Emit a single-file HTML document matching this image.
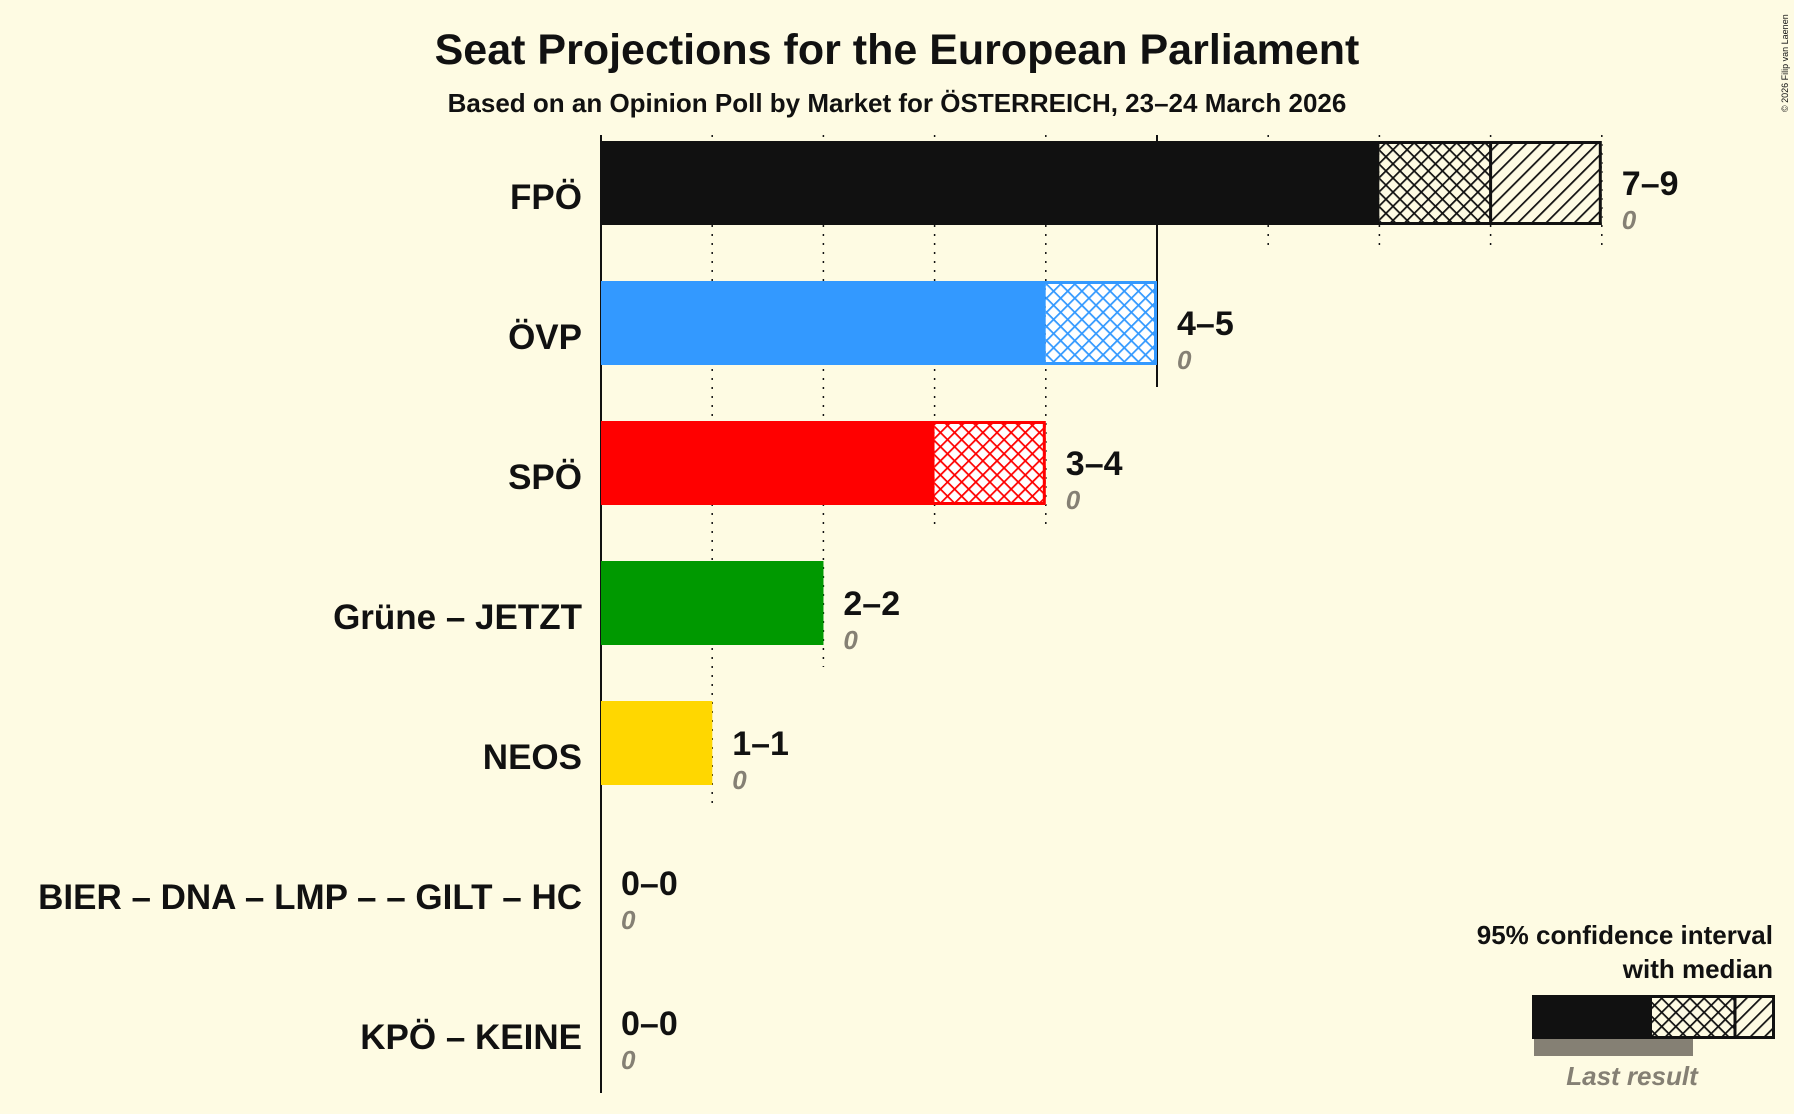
<!DOCTYPE html>
<html><head><meta charset="utf-8"><style>
html,body{margin:0;padding:0;background:#FEFBE3;}
svg{display:block;font-family:"Liberation Sans",sans-serif;}
</style></head><body>
<svg id="chart" width="1794" height="1114" viewBox="0 0 1794 1114" xmlns="http://www.w3.org/2000/svg">
<defs>
<pattern id="xh-black" patternUnits="userSpaceOnUse" width="10" height="10" patternTransform="rotate(45)"><rect width="10" height="10" fill="#FEFBE3"/><path d="M0 0V10M0 0H10" stroke="#111" stroke-width="3.5"/></pattern>
<pattern id="dg-black" patternUnits="userSpaceOnUse" width="10" height="10" patternTransform="rotate(45)"><rect width="10" height="10" fill="#FEFBE3"/><path d="M0 0V10" stroke="#111" stroke-width="3.5"/></pattern>
<pattern id="xh-blue" patternUnits="userSpaceOnUse" width="10" height="10" patternTransform="rotate(45)"><rect width="10" height="10" fill="#fff"/><path d="M0 0V10M0 0H10" stroke="#3399FF" stroke-width="3.5"/></pattern>
<pattern id="xh-red" patternUnits="userSpaceOnUse" width="10" height="10" patternTransform="rotate(45)"><rect width="10" height="10" fill="#fff"/><path d="M0 0V10M0 0H10" stroke="#FF0000" stroke-width="3.5"/></pattern>
</defs>
<text x="897" y="64" text-anchor="middle" font-size="43" font-weight="bold" fill="#111">Seat Projections for the European Parliament</text>
<text x="897" y="112" text-anchor="middle" font-size="26" font-weight="bold" fill="#111">Based on an Opinion Poll by Market for ÖSTERREICH, 23–24 March 2026</text>
<text transform="translate(1788,112) rotate(-90)" font-size="9" fill="#111">© 2026 Filip van Laenen</text>
<g id="grid"></g>
<g id="bars"></g>
<g>
<text x="1773" y="944" text-anchor="end" font-size="26" font-weight="bold" fill="#111">95% confidence interval</text>
<text x="1773" y="978" text-anchor="end" font-size="26" font-weight="bold" fill="#111">with median</text>
<rect x="1534" y="1039" width="159" height="17" fill="#858074"/>
<rect x="1532" y="995" width="120" height="44" fill="#111"/>
<rect x="1652" y="997" width="83" height="40" fill="url(#xh-black)"/>
<rect x="1735" y="997" width="38" height="40" fill="url(#dg-black)"/>
<rect x="1533.5" y="996.5" width="240" height="41" fill="none" stroke="#111" stroke-width="3"/>
<line x1="1735" y1="995" x2="1735" y2="1039" stroke="#111" stroke-width="3"/>
<text x="1632" y="1085" text-anchor="middle" font-size="26" font-style="italic" font-weight="bold" fill="#858074">Last result</text>
</g>
</svg>
<script>
const parties = ["FPÖ","ÖVP","SPÖ","Grüne – JETZT","NEOS","BIER – DNA – LMP – – GILT – HC","KPÖ – KEINE"];
const lows = [7,4,3,2,1,0,0];
const medians = [8,5,4,2,1,0,0];
const highs = [9,5,4,2,1,0,0];
const lastResults = [0,0,0,0,0,0,0];
const colors = ["#111111","#3399FF","#FF0000","#009900","#FFD700","#888888","#888888"];
const xhPatterns = ["url(#xh-black)","url(#xh-blue)","url(#xh-red)","","","",""];

const NS="http://www.w3.org/2000/svg";
const x0=601, unit=111.2, rowTop=183, rowStep=140, barH=84;
const xs=v=>x0+v*unit;
const yc=i=>rowTop+i*rowStep;
function mk(tag,attrs,parent){const e=document.createElementNS(NS,tag);for(const k in attrs)e.setAttribute(k,attrs[k]);parent.appendChild(e);return e;}
const grid=document.getElementById('grid'), bars=document.getElementById('bars');
const maxSeat=Math.max(...highs);
for(let s=1;s<=maxSeat;s++){
  let last=0;highs.forEach((h,i)=>{if(h>=s)last=i;});
  const l=mk('line',{x1:xs(s),x2:xs(s),y1:135,y2:yc(last)+barH/2+22,stroke:'#111','stroke-width':s%5===0?2:1.5,'stroke-dasharray':s%5===0?'':'2,7'},grid);
  
  
}
const ax=mk('line',{x1:x0,x2:x0,y1:135,y2:1093,stroke:'#111','stroke-width':2},grid);


parties.forEach((p,i)=>{
  const y=yc(i)-barH/2;
  const lab=mk('text',{x:582,y:yc(i)+26,'text-anchor':'end','font-size':35,'font-weight':'bold',fill:'#111'},bars);
  lab.textContent=p;
  
  
  if(highs[i]>0){
    const b=mk('rect',{x:x0,y:y,width:xs(lows[i])-x0,height:barH,fill:colors[i]},bars);
    
    
    if(medians[i]>lows[i]){
      const c=mk('rect',{x:xs(lows[i]),y:y,width:xs(medians[i])-xs(lows[i]),height:barH,fill:xhPatterns[i]},bars);
      
      
    }
    if(highs[i]>medians[i]){
      const d=mk('rect',{x:xs(medians[i]),y:y,width:xs(highs[i])-xs(medians[i]),height:barH,fill:'url(#dg-black)'},bars);
      
      
    }
    const o=mk('rect',{x:x0+1.5,y:y+1.5,width:xs(highs[i])-x0-3,height:barH-3,fill:'none',stroke:colors[i],'stroke-width':3},bars);
    
    
    if(highs[i]>medians[i]){
      const m=mk('line',{x1:xs(medians[i]),x2:xs(medians[i]),y1:y,y2:y+barH,stroke:colors[i],'stroke-width':3},bars);
      
      
    }
  }
  const vx=xs(highs[i])+20;
  const v=mk('text',{x:vx,y:yc(i)+12,'font-size':34,'font-weight':'bold',fill:'#111'},bars);
  v.textContent=lows[i]+'–'+highs[i];
  
  
  const lr=mk('text',{x:vx,y:yc(i)+46,'font-size':26,'font-style':'italic','font-weight':'bold',fill:'#858074'},bars);
  lr.textContent=lastResults[i];
  
  
});
</script>
</body></html>
